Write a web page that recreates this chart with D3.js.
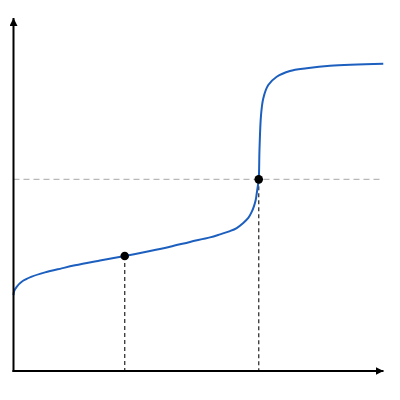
<!DOCTYPE html>
<html>
<head>
<meta charset="utf-8">
<script src="https://cdn.jsdelivr.net/npm/d3@7"></script>
<style>
html,body{margin:0;padding:0;background:#fff;}
svg{display:block;}
</style>
</head>
<body>
<svg id="chart" width="400" height="400"></svg>
<script>
// Titration curve: volume added (mL) vs pH
const volume = [0, 0.09, 0.43, 1.11, 2.46, 4.26, 6.51, 8.31, 11.69, 15.03, 18.45, 21.15, 23.85, 26.55, 27.91, 29.26, 30.16, 31.05, 31.73, 32.19, 32.50, 32.73, 32.86, 33.00, 33.14, 33.24, 33.45, 33.76, 34.43, 35.57, 37.36, 39.62, 42.77, 49.97];
const pH     = [3.01, 3.17, 3.34, 3.54, 3.74, 3.91, 4.07, 4.19, 4.38, 4.56, 4.76, 4.93, 5.12, 5.30, 5.42, 5.55, 5.67, 5.87, 6.07, 6.31, 6.54, 6.78, 7.02, 7.30, 7.60, 8.77, 10.15, 10.82, 11.34, 11.67, 11.90, 12.01, 12.11, 12.19];
const markedVolume = [15.03, 33.14];
const markedPH = [4.56, 7.60];
const equivalencePH = 7.60;

const svg = d3.select("#chart");
const x = d3.scaleLinear().domain([0, 50]).range([13.5, 383.5]);
const y = d3.scaleLinear().domain([0, 14]).range([371, 18]);

const defs = svg.append("defs");
defs.append("marker")
  .attr("id", "arrow")
  .attr("viewBox", "0 0 10 10")
  .attr("refX", 10).attr("refY", 5)
  .attr("markerWidth", 8).attr("markerHeight", 8)
  .attr("markerUnits", "userSpaceOnUse")
  .attr("orient", "auto")
  .append("path").attr("d", "M0,0 L10,5 L0,10 Z").attr("fill", "#000");

// horizontal dashed line at equivalence pH
svg.append("line")
  .attr("x1", x(0)).attr("x2", x(50))
  .attr("y1", y(equivalencePH)).attr("y2", y(equivalencePH))
  .attr("stroke", "#b8b8b8").attr("stroke-width", 1.2)
  .attr("stroke-dasharray", "6,4");

// vertical dashed drop lines
svg.selectAll(".drop").data(markedVolume.map((v, i) => ({v, p: markedPH[i]})))
  .enter().append("line")
  .attr("x1", d => x(d.v)).attr("x2", d => x(d.v))
  .attr("y1", d => y(d.p)).attr("y2", y(0))
  .attr("stroke", "#333").attr("stroke-width", 1.3)
  .attr("stroke-dasharray", "4,3");

// curve
const pts = volume.map((v, i) => [v, pH[i]]);
svg.append("path")
  .datum(pts)
  .attr("fill", "none")
  .attr("stroke", "#1c5fbe")
  .attr("stroke-width", 2)
  .attr("d", d3.line().x(d => x(d[0])).y(d => y(d[1])).curve(d3.curveCatmullRom.alpha(0.5)));

// axes
svg.append("line")
  .attr("x1", x(0)).attr("x2", x(0))
  .attr("y1", y(0) + 1).attr("y2", y(14))
  .attr("stroke", "#000").attr("stroke-width", 2)
  .attr("marker-end", "url(#arrow)");
svg.append("line")
  .attr("x1", x(0) - 1).attr("x2", x(50))
  .attr("y1", y(0)).attr("y2", y(0))
  .attr("stroke", "#000").attr("stroke-width", 2)
  .attr("marker-end", "url(#arrow)");

// marked points
svg.selectAll(".pt").data(markedVolume.map((v, i) => ({v, p: markedPH[i]})))
  .enter().append("circle")
  .attr("cx", d => x(d.v)).attr("cy", d => y(d.p))
  .attr("r", 4.3).attr("fill", "#000");
</script>
</body>
</html>
